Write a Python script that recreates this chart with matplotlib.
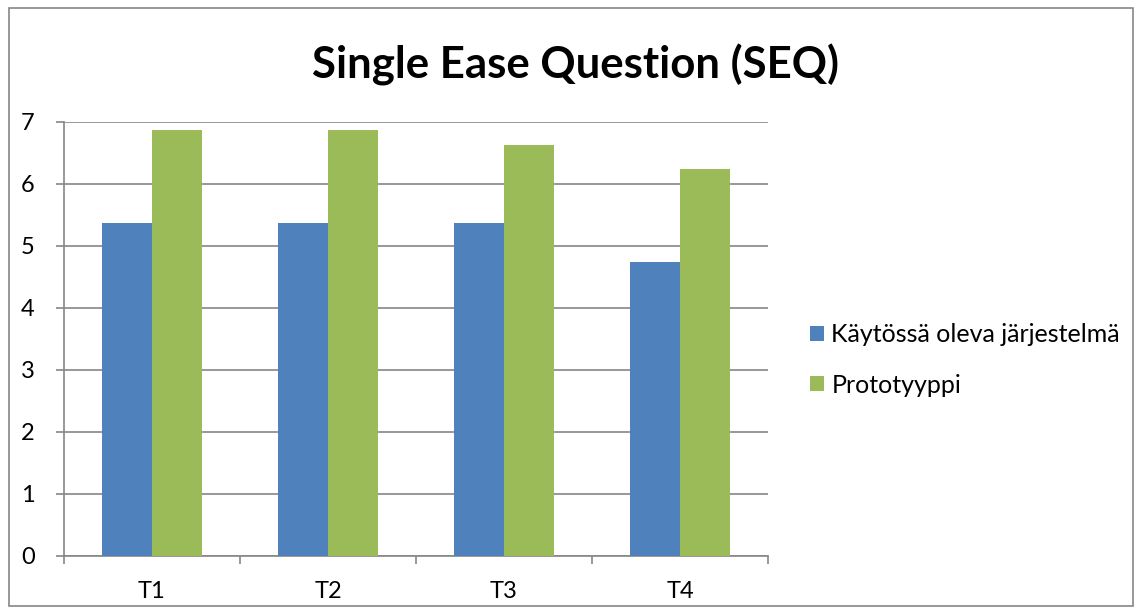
import matplotlib
matplotlib.use("Agg")
import matplotlib.pyplot as plt
import numpy as np
from matplotlib.patches import Rectangle

plt.rcParams['font.family'] = ['Lato', 'DejaVu Sans']

tasks = ['T1', 'T2', 'T3', 'T4']
current_system = [5.375, 5.375, 5.375, 4.75]
prototype = [6.875, 6.875, 6.625, 6.25]
series_names = ['Käytössä oleva järjestelmä', 'Prototyyppi']

fig = plt.figure(figsize=(11.42, 6.16), dpi=100)
ax = fig.add_axes([64/1142, 1-556/616, (768-64)/1142, (556-122)/616])

x = np.arange(len(tasks))
w = 0.284
ax.bar(x - w/2, current_system, w, color='#4f81bd', label=series_names[0], zorder=3)
ax.bar(x + w/2, prototype, w, color='#9bbb59', label=series_names[1], zorder=3)

ax.set_xlim(-0.5, len(tasks) - 0.5)
ax.set_ylim(0, 7)
ax.set_yticks(range(0, 8))
ax.yaxis.grid(True, color='#868686', lw=1.2, zorder=0)
ax.set_xticks(x)
ax.set_xticklabels(tasks)
ax.set_xticks(np.arange(-0.5, len(tasks)), minor=True)
ax.tick_params(axis='x', which='major', length=0, labelsize=17, pad=18)
ax.tick_params(axis='x', which='minor', length=6, color='#868686', width=1.2)
ax.tick_params(axis='y', length=6, color='#868686', width=1.2, labelsize=17, pad=15)
for s in ['top', 'right']:
    ax.spines[s].set_visible(False)
for s in ['left', 'bottom']:
    ax.spines[s].set_color('#868686')
    ax.spines[s].set_linewidth(1.2)

fig.text(575/1142, 1-65/616, 'Single Ease Question (SEQ)', ha='center', va='center',
         fontsize=31.5, fontweight='bold')

ax.legend(loc='center left', bbox_to_anchor=(1.028, 0.452), frameon=False, fontsize=18,
          handlelength=0.55, handleheight=0.55, labelspacing=1.1, handletextpad=0.3)

fig.patches.append(Rectangle((9/1142, 1-606/616), (1133-9)/1142, (606-8)/616,
                             transform=fig.transFigure, fill=False, ec='#868686', lw=1.2))

fig.savefig('out.png', dpi=100)
